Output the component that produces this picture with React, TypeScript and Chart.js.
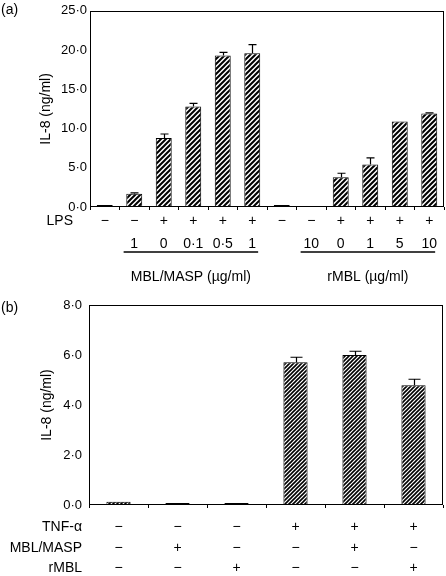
import React, { useEffect, useRef } from 'react';
import { Chart, registerables } from 'chart.js';
Chart.register(...registerables);

const FONT = '"Liberation Sans", Arial, Helvetica, sans-serif';

// ---- Panel (a) ----
const lpsRow = ['−', '−', '+', '+', '+', '+', '−', '−', '+', '+', '+', '+'];
const doseRow = ['', '1', '0', '0·1', '0·5', '1', '', '10', '0', '1', '5', '10'];
const valuesA = [0.1, 1.7, 8.8, 12.8, 19.3, 19.6, 0.1, 0, 3.8, 5.4, 10.9, 11.9];
const errorsA = [0, 0.1, 0.5, 0.4, 0.4, 1.1, 0, 0, 0.5, 0.85, 0, 0.1];
const groupLabelsA = ['MBL/MASP (µg/ml)', 'rMBL (µg/ml)'];
const groupSpansA = [[1, 5], [7, 11]];
const yTicksA = [0, 5, 10, 15, 20, 25];

// ---- Panel (b) ----
const rowNamesB = ['TNF-α', 'MBL/MASP', 'rMBL'];
const tnfRow = ['−', '−', '−', '+', '+', '+'];
const mblRow = ['−', '+', '−', '−', '+', '−'];
const rmblRow = ['−', '−', '+', '−', '−', '+'];
const valuesB = [0.13, 0.05, 0.05, 5.71, 6.0, 4.79];
const errorsB = [0, 0, 0, 0.2, 0.15, 0.24];
const yTicksB = [0, 2, 4, 6, 8];

const fmt = (v: number) => v.toFixed(1).replace('.', '·');

function makeHatch(ctx: CanvasRenderingContext2D, s: number, lw: number) {
  const c = document.createElement('canvas');
  c.width = s;
  c.height = s;
  const g = c.getContext('2d')!;
  g.fillStyle = '#fff';
  g.fillRect(0, 0, s, s);
  g.strokeStyle = '#000';
  g.lineWidth = lw;
  g.beginPath();
  g.moveTo(-1, s + 1);
  g.lineTo(s + 1, -1);
  g.moveTo(-1, 1);
  g.lineTo(1, -1);
  g.moveTo(s - 1, s + 1);
  g.lineTo(s + 1, s - 1);
  g.stroke();
  return ctx.createPattern(c, 'repeat')!;
}

function errorBarPlugin(errors: number[], cap: number) {
  return {
    id: 'errbars',
    afterDatasetsDraw(chart: any) {
      const { ctx } = chart;
      const y = chart.scales.y;
      const meta = chart.getDatasetMeta(0);
      const vals = chart.data.datasets[0].data as number[];
      ctx.save();
      ctx.strokeStyle = '#000';
      ctx.lineWidth = 1.2;
      meta.data.forEach((bar: any, i: number) => {
        const e = errors[i];
        if (!e) return;
        const x = Math.round(bar.x) + 0.5;
        const y0 = y.getPixelForValue(vals[i]);
        const y1 = y.getPixelForValue(vals[i] + e);
        ctx.beginPath();
        ctx.moveTo(x, y0);
        ctx.lineTo(x, y1);
        ctx.moveTo(x - cap / 2, y1);
        ctx.lineTo(x + cap / 2, y1);
        ctx.stroke();
      });
      ctx.restore();
    },
  };
}

function frame(chart: any) {
  const { ctx, chartArea: a } = chart;
  ctx.save();
  ctx.strokeStyle = '#000';
  ctx.lineWidth = 1;
  ctx.strokeRect(Math.round(a.left) + 0.5, Math.round(a.top) + 0.5, Math.round(a.width) - 1, Math.round(a.height) - 1);
  ctx.restore();
}

const LH_A = 23;
const TICKPAD_A = 3;
const LH_B = 20.5;
const TICKPAD_B = 12;

const annotA = {
  id: 'annotA',
  afterDraw(chart: any) {
    frame(chart);
    const { ctx } = chart;
    const x = chart.scales.x;
    ctx.save();
    ctx.fillStyle = '#000';
    ctx.strokeStyle = '#000';
    ctx.font = `14px ${FONT}`;
    ctx.textBaseline = 'middle';
    ctx.textAlign = 'left';
    ctx.fillText('(a)', 1, 10);
    const row1 = x.top + TICKPAD_A + LH_A / 2;
    ctx.textAlign = 'right';
    ctx.fillText('LPS', 73, row1);
    const cw = x.width / x.ticks.length;
    const lineY = x.top + TICKPAD_A + LH_A * 2 - 4;
    ctx.lineWidth = 1.5;
    ctx.textAlign = 'center';
    groupSpansA.forEach(([a, b], k) => {
      const x0 = x.getPixelForValue(a) - cw * 0.36;
      const x1 = x.getPixelForValue(b) + cw * 0.2;
      ctx.beginPath();
      ctx.moveTo(x0, lineY);
      ctx.lineTo(x1, lineY);
      ctx.stroke();
      ctx.fillText(groupLabelsA[k], (x0 + x1) / 2, lineY + 25);
    });
    ctx.restore();
  },
};

const annotB = {
  id: 'annotB',
  afterDraw(chart: any) {
    frame(chart);
    const { ctx } = chart;
    const x = chart.scales.x;
    ctx.save();
    ctx.fillStyle = '#000';
    ctx.font = `14px ${FONT}`;
    ctx.textBaseline = 'middle';
    ctx.textAlign = 'left';
    ctx.fillText('(b)', 1, 23);
    ctx.textAlign = 'right';
    rowNamesB.forEach((n, j) => {
      ctx.fillText(n, 82, x.top + TICKPAD_B + LH_B / 2 + j * LH_B);
    });
    ctx.restore();
  },
};

function baseOptions(opts: {
  padTop: number;
  padRight: number;
  yMin: number;
  yMax: number;
  yTicks: number[];
  yWidth: number;
  yPad: number;
  titlePad: number;
  xHeight: number;
  xPad: number;
  lh: number;
}) {
  return {
    animation: false,
    responsive: false,
    layout: { padding: { top: opts.padTop, right: opts.padRight, left: 0, bottom: 0 } },
    plugins: { legend: { display: false }, tooltip: { enabled: false } },
    scales: {
      x: {
        grid: { display: true, offset: true, drawOnChartArea: false, drawTicks: true, tickLength: 3, color: '#000', lineWidth: 1 },
        border: { display: false },
        ticks: {
          autoSkip: false,
          maxRotation: 0,
          minRotation: 0,
          padding: opts.xPad,
          color: '#000',
          font: { family: FONT, size: 14, lineHeight: opts.lh / 14 },
        },
        afterFit: (s: any) => {
          s.height = opts.xHeight;
        },
      },
      y: {
        min: opts.yMin,
        max: opts.yMax,
        grid: { display: false, drawTicks: false },
        border: { display: false },
        ticks: {
          color: '#000',
          padding: opts.yPad,
          font: { family: FONT, size: 13 },
          callback: (v: any) => fmt(Number(v)),
        },
        afterBuildTicks: (s: any) => {
          s.ticks = opts.yTicks.map((v) => ({ value: v }));
        },
        title: {
          display: true,
          text: 'IL-8 (ng/ml)',
          color: '#000',
          font: { family: FONT, size: 14 },
          padding: { top: opts.titlePad, bottom: 0 },
        },
        afterFit: (s: any) => {
          s.width = opts.yWidth;
        },
      },
    },
  };
}

export default function App() {
  const refA = useRef<HTMLCanvasElement>(null);
  const refB = useRef<HTMLCanvasElement>(null);

  useEffect(() => {
    const cA = refA.current!;
    const cB = refB.current!;
    const patA = makeHatch(cA.getContext('2d')!, 5, 2);
    const patB = makeHatch(cB.getContext('2d')!, 4, 1.6);

    const chartA = new Chart(cA, {
      type: 'bar',
      data: {
        labels: lpsRow.map((l, i) => [l, doseRow[i]]),
        datasets: [
          {
            data: valuesA,
            backgroundColor: (c: any) => (c.raw === 0 ? 'rgba(0,0,0,0)' : patA),
            borderColor: (c: any) => (c.raw === 0 ? 'rgba(0,0,0,0)' : '#000'),
            borderWidth: 1,
            minBarLength: 2,
            barPercentage: 0.54,
            categoryPercentage: 1,
          },
        ],
      },
      options: baseOptions({
        padTop: 8,
        padRight: 2,
        yMin: 0,
        yMax: 25,
        yTicks: yTicksA,
        yWidth: 90,
        yPad: 3,
        titlePad: 37.6,
        xHeight: 78,
        xPad: 0,
        lh: LH_A,
      }) as any,
      plugins: [errorBarPlugin(errorsA, 8), annotA],
    });

    const chartB = new Chart(cB, {
      type: 'bar',
      data: {
        labels: tnfRow.map((t, i) => [t, mblRow[i], rmblRow[i]]),
        datasets: [
          {
            data: valuesB,
            backgroundColor: patB,
            borderColor: '#000',
            borderWidth: 1,
            minBarLength: 2,
            barPercentage: 0.41,
            categoryPercentage: 1,
          },
        ],
      },
      options: baseOptions({
        padTop: 20,
        padRight: 3,
        yMin: 0,
        yMax: 8,
        yTicks: yTicksB,
        yWidth: 89,
        yPad: 7,
        titlePad: 38.6,
        xHeight: 71,
        xPad: TICKPAD_B - 3,
        lh: LH_B,
      }) as any,
      plugins: [errorBarPlugin(errorsB, 12), annotB],
    });

    return () => {
      chartA.destroy();
      chartB.destroy();
    };
  }, []);

  return (
    <div style={{ position: 'absolute', left: 0, top: 0, width: 446, height: 576, background: '#fff' }}>
      <canvas ref={refA} width={446} height={285} style={{ position: 'absolute', left: 0, top: 0, display: 'block' }} />
      <canvas ref={refB} width={446} height={291} style={{ position: 'absolute', left: 0, top: 285, display: 'block' }} />
    </div>
  );
}
